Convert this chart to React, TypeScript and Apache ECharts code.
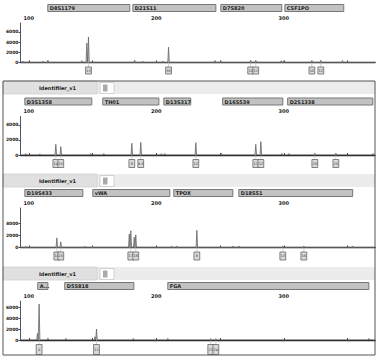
import React, { useEffect, useRef } from "react";
import * as echarts from "echarts";

// ---- shared axis values ----
const xTickValues = [100, 150, 200, 250, 300, 350];
const xLabelValues = [100, 200, 300];
const xMin = 93.5;
const xMax = 371.5;

// ---- panel 1 ----
const p1Markers: [string, number, number][] = [
  ["D8S1179", 114.9, 179.2],
  ["D21S11", 181.6, 246.7],
  ["D7S820", 250.6, 298.4],
  ["CSF1PO", 300.8, 347],
];
const p1Peaks: [number, number][] = [
  [145.5, 3800], [146.8, 5000], [209.6, 3000],
  [274, 450], [278, 450], [322, 400], [329, 450],
];
const p1Noise: [number, number][] = [
  [95.3, 250], [100, 200], [111, 250], [115, 450], [141.6, 350], [183, 450],
  [189.4, 250], [205, 300], [246, 400], [250.6, 350], [298, 350], [300, 350], [346, 400],
];
const p1Alleles: [number, string][] = [
  [146.8, "13"], [209.6, "30"], [274, "10"], [278, "11"], [322, "10"], [329, "12"],
];
const p1YTicks = [0, 2000, 4000, 6000];
const p1YMax = 7750;

// ---- panel 2 ----
const p2Markers: [string, number, number][] = [
  ["D3S1358", 96.9, 149.4],
  ["TH01", 158, 202],
  ["D13S317", 205.9, 227],
  ["D16S539", 252, 299.2],
  ["D2S1338", 303, 369.8],
];
const p2Peaks: [number, number][] = [
  [121.2, 1430], [125.1, 1110], [180.8, 1560], [187.8, 1690],
  [231, 1640], [278, 1430], [282, 1780], [324.3, 250], [340.8, 250],
];
const p2Noise: [number, number][] = [
  [97.6, 200], [108.6, 150], [148.6, 200], [158.8, 200], [204, 200],
  [206.7, 200], [251, 250], [298.4, 200], [304, 200], [370, 200],
];
const p2Alleles: [number, string][] = [
  [121.2, "14"], [125.1, "15"], [180.8, "8"], [187.8, "9.3"],
  [231, "12"], [278, "11"], [282, "12"], [324.3, "20"], [340.8, "25"],
];
const p2YTicks = [0, 2000, 4000];
const p2YMax = 5130;

// ---- panel 3 ----
const p3Markers: [string, number, number][] = [
  ["D19S433", 96.9, 142.4],
  ["vWA", 150.2, 210.6],
  ["TPOX", 213.7, 260],
  ["D18S51", 264.7, 354],
];
const p3Peaks: [number, number][] = [
  [122, 1580], [125.1, 920], [178.8, 2200], [180, 2750], [182.7, 1700], [183.9, 2080],
  [231.8, 2830], [299.2, 250], [315.7, 250],
];
const p3Noise: [number, number][] = [
  [97.6, 200], [144, 200], [150, 200], [212, 250], [216, 250],
  [260, 250], [264.7, 250], [354, 250],
];
const p3Alleles: [number, string][] = [
  [122, "14"], [125.1, "15"], [180, "17"], [183.9, "18"],
  [231.8, "8"], [299.2, "13"], [315.7, "16"],
];
const p3YTicks = [0, 2000, 4000];
const p3YMax = 6500;

// ---- panel 4 ----
const p4Markers: [string, number, number][] = [
  ["A...", 107, 115],
  ["D5S818", 128.2, 182.4],
  ["FGA", 209, 366.7],
];
const p4Peaks: [number, number][] = [
  [108.1, 6550], [153.1, 2000], [242.7, 250], [246.7, 250],
];
const p4Noise: [number, number][] = [
  [106.8, 1200], [115, 350], [129, 300], [151.9, 600], [182, 300], [209, 300], [366.7, 300],
];
const p4Alleles: [number, string][] = [
  [108.1, "X"], [153.1, "11"], [242.7, "22"], [246.7, "24"],
];
const p4YTicks = [0, 2000, 4000, 6000];
const p4YMax = 7100;

const panels = [
  { markers: p1Markers, peaks: p1Peaks, noise: p1Noise, alleles: p1Alleles, yTicks: p1YTicks, yMax: p1YMax, top: 23, height: 39.5, header: null as number | null, boxH: 7 },
  { markers: p2Markers, peaks: p2Peaks, noise: p2Noise, alleles: p2Alleles, yTicks: p2YTicks, yMax: p2YMax, top: 116.5, height: 38.5, header: 81, boxH: 8 },
  { markers: p3Markers, peaks: p3Peaks, noise: p3Noise, alleles: p3Alleles, yTicks: p3YTicks, yMax: p3YMax, top: 208, height: 39.5, header: 174, boxH: 8 },
  { markers: p4Markers, peaks: p4Peaks, noise: p4Noise, alleles: p4Alleles, yTicks: p4YTicks, yMax: p4YMax, top: 301, height: 39, header: 267, boxH: 10 },
];

const FONT = "DejaVu Sans";

function peakLine(peaks: [number, number][], noise: [number, number][]) {
  const all = [...peaks, ...noise].sort((a, b) => a[0] - b[0]);
  const pts: number[][] = [[xMin, 0]];
  for (const [x, h] of all) {
    pts.push([x - 0.6, 0], [x, h], [x + 0.6, 0]);
  }
  pts.push([xMax, 0]);
  return pts;
}

export default function App() {
  const ref = useRef<HTMLDivElement>(null);
  useEffect(() => {
    if (!ref.current) return;
    const chart = echarts.init(ref.current, null, { renderer: "svg" });

    const grids: any[] = [];
    const xAxes: any[] = [];
    const yAxes: any[] = [];
    const series: any[] = [];
    const graphic: any[] = [];

    // outer frame
    graphic.push({
      type: "rect",
      shape: { x: 3, y: 81, width: 372, height: 274 },
      style: { fill: "none", stroke: "#555", lineWidth: 1 },
      z: 100,
    });

    panels.forEach((p, i) => {
      grids.push({ left: 20.5, right: 4, top: p.top, height: p.height, containLabel: false });
      xAxes.push({
        type: "value",
        gridIndex: i,
        position: "top",
        min: xMin,
        max: xMax,
        axisLine: { show: true, lineStyle: { color: "#777", width: 1 } },
        axisTick: { show: true, customValues: xTickValues, length: 2, lineStyle: { color: "#444" } },
        axisLabel: {
          show: true,
          customValues: xLabelValues,
          formatter: (v: number) => String(v),
          fontSize: 5,
          fontWeight: "bold",
          fontFamily: FONT,
          color: "#222",
          margin: 3,
        },
        splitLine: { show: false },
      });
      xAxes.push({
        type: "value",
        gridIndex: i,
        position: "bottom",
        min: xMin,
        max: xMax,
        axisLine: { show: true, onZero: false, lineStyle: { color: "#222", width: 1.4 } },
        axisTick: { show: false },
        axisLabel: { show: false },
        splitLine: { show: false },
      });
      yAxes.push({
        type: "value",
        gridIndex: i,
        min: 0,
        max: p.yMax,
        axisLine: { show: true, lineStyle: { color: "#555", width: 1 } },
        axisTick: { show: true, customValues: p.yTicks, length: 2, lineStyle: { color: "#444" } },
        axisLabel: {
          show: true,
          customValues: p.yTicks,
          formatter: (v: number) => String(v),
          fontSize: 4.5,
          fontWeight: "bold",
          fontFamily: FONT,
          color: "#222",
          margin: 2,
        },
        splitLine: { show: false },
      });

      series.push({
        type: "line",
        xAxisIndex: i * 2,
        yAxisIndex: i,
        data: peakLine(p.peaks, p.noise),
        symbol: "none",
        lineStyle: { color: "#666", width: 0.8 },
        areaStyle: { color: "#cacaca", opacity: 1 },
        silent: true,
        z: 3,
      });

      const markers = p.markers;
      series.push({
        type: "custom",
        xAxisIndex: i * 2,
        yAxisIndex: i,
        clip: false,
        silent: true,
        data: markers.map((m) => [m[1], 0, m[2]]),
        encode: { x: 0, y: 1 },
        renderItem: (params: any, api: any) => {
          const s = api.coord([api.value(0), 0]);
          const e = api.coord([api.value(2), 0]);
          const top = params.coordSys.y;
          const name = markers[params.dataIndex][0];
          return {
            type: "group",
            children: [
              {
                type: "rect",
                shape: { x: s[0], y: top - 18.5, width: e[0] - s[0], height: 7 },
                style: { fill: "#c2c2c2", stroke: "#777", lineWidth: 1 },
              },
              {
                type: "text",
                x: s[0] + 2,
                y: top - 15,
                style: {
                  text: name,
                  fontSize: 5,
                  fontWeight: "bold",
                  fontFamily: FONT,
                  fill: "#222",
                  verticalAlign: "middle",
                  align: "left",
                },
              },
            ],
          };
        },
      });

      const alleles = p.alleles;
      const boxH = p.boxH;
      series.push({
        type: "custom",
        xAxisIndex: i * 2,
        yAxisIndex: i,
        clip: false,
        silent: true,
        data: alleles.map((a) => [a[0], 0]),
        encode: { x: 0, y: 1 },
        renderItem: (params: any, api: any) => {
          const c = api.coord([api.value(0), 0]);
          const label = alleles[params.dataIndex][1];
          return {
            type: "group",
            children: [
              {
                type: "line",
                shape: { x1: c[0], y1: c[1], x2: c[0], y2: c[1] + 4.5 },
                style: { stroke: "#bbb", lineWidth: 0.6 },
              },
              {
                type: "rect",
                shape: { x: c[0] - 2.9, y: c[1] + 4.5, width: 5.8, height: boxH },
                style: { fill: "#dadada", stroke: "#666", lineWidth: 0.8 },
              },
              {
                type: "text",
                x: c[0],
                y: c[1] + 4.5 + boxH / 2,
                style: {
                  text: label,
                  fontSize: 3.5,
                  fontFamily: FONT,
                  fill: "#333",
                  align: "center",
                  verticalAlign: "middle",
                },
              },
            ],
          };
        },
      });

      if (p.header !== null) {
        const hy = p.header;
        graphic.push(
          { type: "rect", shape: { x: 3, y: hy, width: 372, height: 13 }, style: { fill: "#ececec" }, z: 1 },
          { type: "rect", shape: { x: 3, y: hy, width: 94, height: 13 }, style: { fill: "#e0e0e0", stroke: "#d0d0d0", lineWidth: 0.8 }, z: 2 },
          {
            type: "text",
            x: 57.5,
            y: hy + 7,
            style: {
              text: "Identifiler_v1",
              fontSize: 5,
              fontWeight: "bold",
              fontFamily: FONT,
              fill: "#222",
              align: "center",
              verticalAlign: "middle",
            },
            z: 3,
          },
          { type: "rect", shape: { x: 100, y: hy + 1.5, width: 14, height: 11 }, style: { fill: "#ffffff", stroke: "#c8c8c8", lineWidth: 0.8 }, z: 2 },
          { type: "rect", shape: { x: 103, y: hy + 3.5, width: 4.5, height: 7 }, style: { fill: "#aaaaaa" }, z: 3 }
        );
      }
    });

    chart.setOption({
      animation: false,
      backgroundColor: "#ffffff",
      grid: grids,
      xAxis: xAxes,
      yAxis: yAxes,
      series,
      graphic,
    });
    return () => chart.dispose();
  }, []);

  return (
    <div
      ref={ref}
      style={{ position: "fixed", left: 0, top: 0, width: 379, height: 360 }}
    />
  );
}
